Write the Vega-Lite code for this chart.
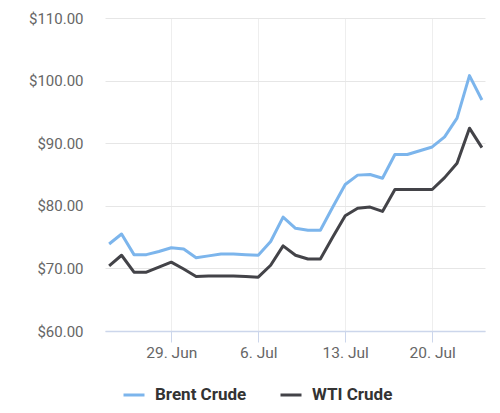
{
  "$schema": "https://vega.github.io/schema/vega-lite/v6.json",
  "autosize": "none",
  "width": 380,
  "height": 313,
  "padding": {"left": 105, "top": 18, "right": 15, "bottom": 82},
  "background": "#ffffff",
  "config": {
    "font": "Roboto",
    "view": {"stroke": null}
  },
  "data": {
    "values": [
      {"date": "2020-06-24", "series": "Brent Crude", "price": 73.9},
      {"date": "2020-06-25", "series": "Brent Crude", "price": 75.5},
      {"date": "2020-06-26", "series": "Brent Crude", "price": 72.2},
      {"date": "2020-06-27", "series": "Brent Crude", "price": 72.2},
      {"date": "2020-06-28", "series": "Brent Crude", "price": 72.7},
      {"date": "2020-06-29", "series": "Brent Crude", "price": 73.3},
      {"date": "2020-06-30", "series": "Brent Crude", "price": 73.1},
      {"date": "2020-07-01", "series": "Brent Crude", "price": 71.7},
      {"date": "2020-07-02", "series": "Brent Crude", "price": 72.0},
      {"date": "2020-07-03", "series": "Brent Crude", "price": 72.3},
      {"date": "2020-07-04", "series": "Brent Crude", "price": 72.3},
      {"date": "2020-07-05", "series": "Brent Crude", "price": 72.2},
      {"date": "2020-07-06", "series": "Brent Crude", "price": 72.1},
      {"date": "2020-07-07", "series": "Brent Crude", "price": 74.3},
      {"date": "2020-07-08", "series": "Brent Crude", "price": 78.2},
      {"date": "2020-07-09", "series": "Brent Crude", "price": 76.4},
      {"date": "2020-07-10", "series": "Brent Crude", "price": 76.1},
      {"date": "2020-07-11", "series": "Brent Crude", "price": 76.1},
      {"date": "2020-07-12", "series": "Brent Crude", "price": 79.8},
      {"date": "2020-07-13", "series": "Brent Crude", "price": 83.4},
      {"date": "2020-07-14", "series": "Brent Crude", "price": 84.9},
      {"date": "2020-07-15", "series": "Brent Crude", "price": 85.0},
      {"date": "2020-07-16", "series": "Brent Crude", "price": 84.4},
      {"date": "2020-07-17", "series": "Brent Crude", "price": 88.2},
      {"date": "2020-07-18", "series": "Brent Crude", "price": 88.2},
      {"date": "2020-07-19", "series": "Brent Crude", "price": 88.8},
      {"date": "2020-07-20", "series": "Brent Crude", "price": 89.4},
      {"date": "2020-07-21", "series": "Brent Crude", "price": 91.0},
      {"date": "2020-07-22", "series": "Brent Crude", "price": 94.0},
      {"date": "2020-07-23", "series": "Brent Crude", "price": 100.8},
      {"date": "2020-07-24", "series": "Brent Crude", "price": 96.9},
      {"date": "2020-06-24", "series": "WTI Crude", "price": 70.4},
      {"date": "2020-06-25", "series": "WTI Crude", "price": 72.1},
      {"date": "2020-06-26", "series": "WTI Crude", "price": 69.4},
      {"date": "2020-06-27", "series": "WTI Crude", "price": 69.4},
      {"date": "2020-06-28", "series": "WTI Crude", "price": 70.2},
      {"date": "2020-06-29", "series": "WTI Crude", "price": 71.0},
      {"date": "2020-06-30", "series": "WTI Crude", "price": 69.9},
      {"date": "2020-07-01", "series": "WTI Crude", "price": 68.7},
      {"date": "2020-07-02", "series": "WTI Crude", "price": 68.8},
      {"date": "2020-07-03", "series": "WTI Crude", "price": 68.8},
      {"date": "2020-07-04", "series": "WTI Crude", "price": 68.8},
      {"date": "2020-07-05", "series": "WTI Crude", "price": 68.7},
      {"date": "2020-07-06", "series": "WTI Crude", "price": 68.6},
      {"date": "2020-07-07", "series": "WTI Crude", "price": 70.5},
      {"date": "2020-07-08", "series": "WTI Crude", "price": 73.6},
      {"date": "2020-07-09", "series": "WTI Crude", "price": 72.1},
      {"date": "2020-07-10", "series": "WTI Crude", "price": 71.5},
      {"date": "2020-07-11", "series": "WTI Crude", "price": 71.5},
      {"date": "2020-07-12", "series": "WTI Crude", "price": 75.0},
      {"date": "2020-07-13", "series": "WTI Crude", "price": 78.4},
      {"date": "2020-07-14", "series": "WTI Crude", "price": 79.6},
      {"date": "2020-07-15", "series": "WTI Crude", "price": 79.8},
      {"date": "2020-07-16", "series": "WTI Crude", "price": 79.1},
      {"date": "2020-07-17", "series": "WTI Crude", "price": 82.6},
      {"date": "2020-07-18", "series": "WTI Crude", "price": 82.6},
      {"date": "2020-07-19", "series": "WTI Crude", "price": 82.6},
      {"date": "2020-07-20", "series": "WTI Crude", "price": 82.6},
      {"date": "2020-07-21", "series": "WTI Crude", "price": 84.5},
      {"date": "2020-07-22", "series": "WTI Crude", "price": 86.8},
      {"date": "2020-07-23", "series": "WTI Crude", "price": 92.4},
      {"date": "2020-07-24", "series": "WTI Crude", "price": 89.3}
    ]
  },
  "mark": {"type": "line", "strokeWidth": 3, "strokeJoin": "round"},
  "encoding": {
    "x": {
      "field": "date",
      "type": "temporal",
      "scale": {
        "type": "utc",
        "domain": [
          {"year": 2020, "month": 6, "date": 23, "hours": 16, "utc": true},
          {"year": 2020, "month": 7, "date": 24, "hours": 6, "utc": true}
        ]
      },
      "axis": {
        "title": null,
        "values": [
          {"year": 2020, "month": 6, "date": 29, "utc": true},
          {"year": 2020, "month": 7, "date": 6, "utc": true},
          {"year": 2020, "month": 7, "date": 13, "utc": true},
          {"year": 2020, "month": 7, "date": 20, "utc": true}
        ],
        "labelExpr": "utcFormat(datum.value, '%-d. %b')",
        "labelFontSize": 15.5,
        "labelColor": "#666666",
        "labelPadding": 3,
        "tickSize": 11,
        "tickColor": "#ccd6eb",
        "domainColor": "#ccd6eb",
        "domainWidth": 1.5,
        "grid": true,
        "gridColor": "#eeeeee"
      }
    },
    "y": {
      "field": "price",
      "type": "quantitative",
      "scale": {"domain": [60, 110], "nice": false, "zero": false},
      "axis": {
        "title": null,
        "values": [60, 70, 80, 90, 100, 110],
        "format": "$.2f",
        "labelFontSize": 15,
        "labelColor": "#666666",
        "labelPadding": 22,
        "ticks": false,
        "domain": false,
        "gridColor": "#e6e6e6"
      }
    },
    "color": {
      "field": "series",
      "type": "nominal",
      "scale": {"domain": ["Brent Crude", "WTI Crude"], "range": ["#7cb5ec", "#434348"]},
      "legend": {
        "title": null,
        "orient": "none",
        "direction": "horizontal",
        "legendX": 17,
        "legendY": 365,
        "symbolType": "stroke",
        "symbolSize": 441,
        "symbolStrokeWidth": 3,
        "labelFontSize": 17,
        "labelFontWeight": "bold",
        "labelColor": "#333333",
        "labelOffset": 9,
        "columnPadding": 27
      }
    }
  }
}
